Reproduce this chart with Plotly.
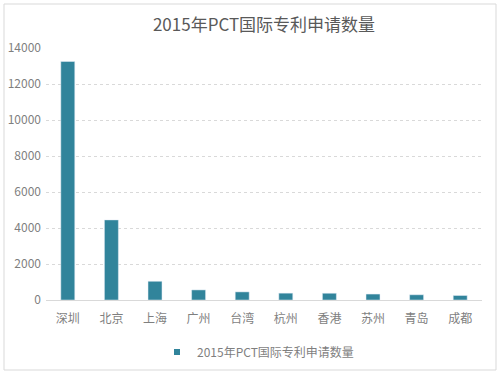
import plotly.graph_objects as go

categories = ["深圳", "北京", "上海", "广州", "台湾", "杭州", "香港", "苏州", "青岛", "成都"]
values = [13250, 4450, 1040, 560, 450, 380, 375, 330, 290, 250]
series_name = "2015年PCT国际专利申请数量"
y_ticks = [0, 2000, 4000, 6000, 8000, 10000, 12000, 14000]

FONT = "Noto Sans CJK SC, Open Sans, sans-serif"
GREY = "#595959"
TICK = "#7F7F7F"
BAR = "#31849B"

fig = go.Figure()
fig.add_trace(go.Bar(x=categories, y=values, name=series_name,
                     marker=dict(color=BAR), showlegend=False))
fig.add_trace(go.Scatter(x=[None], y=[None], mode="markers", name=series_name,
                         marker=dict(symbol="square", size=6, color=BAR),
                         showlegend=True))

W, H = 500, 375
L, R, T, B = 46, 18, 48, 75
pw, ph = W - L - R, H - T - B

def px_x(x):
    return (x - L) / pw

def px_y(y):
    return (H - B - y) / ph

fig.update_layout(
    width=W, height=H,
    margin=dict(l=L, r=R, t=T, b=B, autoexpand=False),
    paper_bgcolor="white", plot_bgcolor="white",
    font=dict(family=FONT, color=TICK, size=11),
    title=dict(text=series_name, x=0.5, xref="paper", xanchor="center",
               y=1 - 25 / H, yanchor="middle", automargin=False,
               font=dict(size=17, color=GREY, family=FONT)),
    bargap=0.68,
    showlegend=True,
    legend=dict(orientation="h", x=px_x(258), xanchor="center", y=px_y(352), yanchor="middle",
                font=dict(size=12, color=TICK), itemwidth=30),
    xaxis=dict(showgrid=False, showline=True, linecolor="#D9D9D9", linewidth=1,
               ticks="", tickfont=dict(size=12, color=TICK), automargin=False,
               ticklabelstandoff=8),
    yaxis=dict(range=[0, 14000], tickvals=y_ticks, ticktext=[str(v) for v in y_ticks],
               showgrid=True, automargin=False,
               gridcolor="#D9D9D9", griddash="dot", zeroline=False, showline=False,
               tickfont=dict(size=12, color=TICK), ticklabelstandoff=4),
    shapes=[dict(type="rect", xref="paper", yref="paper",
                 x0=px_x(4), x1=px_x(496), y0=px_y(370), y1=px_y(4),
                 line=dict(color="#D9D9D9", width=1), layer="below")],
)

fig.write_html("out.html", config={"displayModeBar": False},
               post_script="document.body.style.margin='0px';")
